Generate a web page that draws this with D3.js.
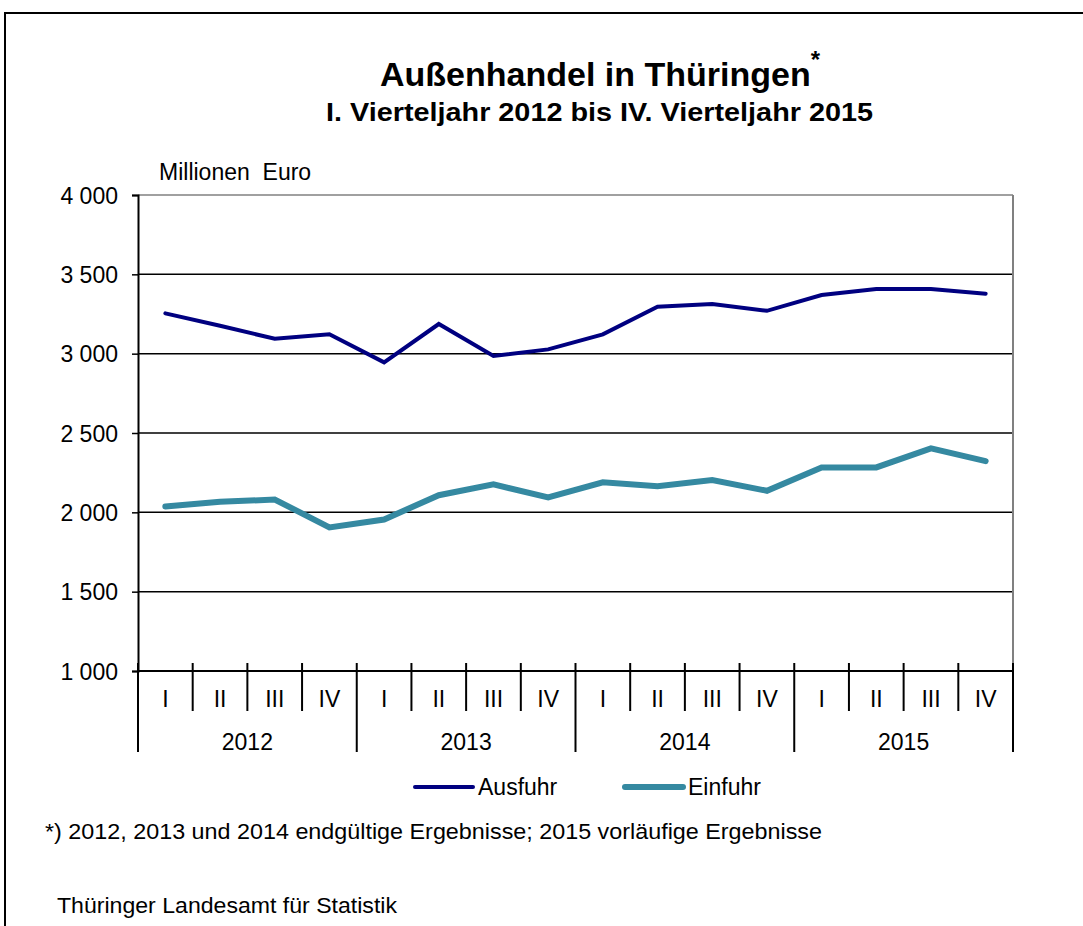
<!DOCTYPE html>
<html>
<head>
<meta charset="utf-8">
<script src="https://cdn.jsdelivr.net/npm/d3@7"></script>
<style>
  body { margin: 0; background: #fff; }
  svg text { font-family: "Liberation Sans", Arial, sans-serif; fill: #000; }
</style>
</head>
<body>
<svg id="chart" width="1083" height="926"></svg>
<script>
// data
var years = ["2012", "2013", "2014", "2015"];
var quarters = ["I", "II", "III", "IV"];
var ausfuhr = [3254, 3176, 3094, 3122, 2945, 3187, 2985, 3027, 3122, 3296, 3313, 3270, 3370, 3407, 3407, 3378];
var einfuhr = [2037, 2066, 2081, 1905, 1955, 2108, 2176, 2094, 2189, 2165, 2203, 2136, 2283, 2283, 2403, 2323];
var yTicks = [1000, 1500, 2000, 2500, 3000, 3500, 4000];

var svg = d3.select('#chart');
var plot = { left: 138, right: 1013, top: 195, bottom: 671 };
var fs = '23px';

// outer frame (only top and left visible in picture)
svg.append('path')
    .attr('d', 'M5,926 V13 H1083')
    .attr('fill', 'none')
    .attr('stroke', '#000')
    .attr('stroke-width', 2);

var idx = d3.range(years.length * quarters.length);
var x = d3.scaleBand().domain(idx).range([plot.left, plot.right]);
var y = d3.scaleLinear().domain([1000, 4000]).range([plot.bottom, plot.top]);
var cx = function (i) { return x(i) + x.bandwidth() / 2; };

var loc = d3.formatLocale({ decimal: ',', thousands: ' ', grouping: [3], currency: ['', ''] });
var fmt = loc.format(',');

// gridlines
svg.append('g').selectAll('line')
    .data(yTicks.filter(function (d) { return d > 1000; }))
    .enter().append('line')
    .attr('x1', plot.left).attr('x2', plot.right)
    .attr('y1', function (d) { return y(d); })
    .attr('y2', function (d) { return y(d); })
    .attr('stroke', function (d) { return d === 4000 ? '#808080' : '#000'; })
    .attr('stroke-width', 1.5);

// right border of plot area
svg.append('line')
    .attr('x1', plot.right).attr('x2', plot.right)
    .attr('y1', plot.top).attr('y2', plot.bottom)
    .attr('stroke', '#808080').attr('stroke-width', 2);

// y axis
var yAxis = svg.append('g')
    .attr('transform', 'translate(' + plot.left + ',0)')
    .call(d3.axisLeft(y).tickValues(yTicks).tickFormat(fmt).tickSize(6).tickPadding(14));
yAxis.select('.domain').attr('stroke', '#000').attr('stroke-width', 2);
yAxis.selectAll('.tick line').attr('stroke', '#000').attr('stroke-width', 1.5);
yAxis.selectAll('text').style('font-size', fs).attr('fill', '#000').attr('dy', '0.36em');

svg.append('text')
    .attr('x', 159).attr('y', 180)
    .style('font-size', fs).style('white-space', 'pre')
    .text('Millionen  Euro');

// x axis baseline
svg.append('line')
    .attr('x1', plot.left).attr('x2', plot.right)
    .attr('y1', plot.bottom).attr('y2', plot.bottom)
    .attr('stroke', '#000').attr('stroke-width', 2);

// quarter tick marks at band boundaries
var bounds = idx.concat([idx.length]);
svg.append('g').selectAll('line')
    .data(bounds)
    .enter().append('line')
    .attr('x1', function (i) { return i < idx.length ? x(i) : plot.right; })
    .attr('x2', function (i) { return i < idx.length ? x(i) : plot.right; })
    .attr('y1', plot.bottom - 8)
    .attr('y2', function (i) { return i % 4 === 0 ? 752 : 711; })
    .attr('stroke', '#000').attr('stroke-width', 2);

svg.append('g').selectAll('text')
    .data(idx)
    .enter().append('text')
    .attr('x', function (i) { return cx(i); })
    .attr('y', 707)
    .attr('text-anchor', 'middle')
    .style('font-size', fs)
    .text(function (i) { return quarters[i % 4]; });

svg.append('g').selectAll('text')
    .data(years)
    .enter().append('text')
    .attr('x', function (d, j) { return (x(j * 4) + x(j * 4 + 3) + x.bandwidth()) / 2; })
    .attr('y', 750)
    .attr('text-anchor', 'middle')
    .style('font-size', fs)
    .text(function (d) { return d; });

// lines
var line = d3.line()
    .x(function (d, i) { return cx(i); })
    .y(function (d) { return y(d); });

svg.append('path')
    .datum(einfuhr)
    .attr('d', line)
    .attr('fill', 'none')
    .attr('stroke', '#3589a1')
    .attr('stroke-width', 6)
    .attr('stroke-linecap', 'round');

svg.append('path')
    .datum(ausfuhr)
    .attr('d', line)
    .attr('fill', 'none')
    .attr('stroke', '#000080')
    .attr('stroke-width', 4)
    .attr('stroke-linecap', 'round');

// titles
var title = svg.append('text')
    .attr('x', 600).attr('y', 86)
    .attr('text-anchor', 'middle')
    .style('font-size', '34px').style('font-weight', 'bold');
title.append('tspan').text('Außenhandel in Thüringen');
title.append('tspan').attr('dy', -18).style('font-size', '24px').text('*');

svg.append('text')
    .attr('x', 326).attr('y', 121)
    .attr('textLength', 547).attr('lengthAdjust', 'spacingAndGlyphs')
    .style('font-size', '25px').style('font-weight', 'bold')
    .text('I. Vierteljahr 2012 bis IV. Vierteljahr 2015');

// legend
var legend = [
    { name: 'Ausfuhr', color: '#000080', width: 4, x: 415 },
    { name: 'Einfuhr', color: '#3589a1', width: 6, x: 625 }
];
var lg = svg.append('g').selectAll('g')
    .data(legend)
    .enter().append('g')
    .attr('transform', function (d) { return 'translate(' + d.x + ',787)'; });
lg.append('line')
    .attr('x1', 0).attr('x2', 58)
    .attr('stroke', function (d) { return d.color; })
    .attr('stroke-width', function (d) { return d.width; })
    .attr('stroke-linecap', 'round');
lg.append('text')
    .attr('x', 63).attr('y', 8)
    .style('font-size', fs)
    .text(function (d) { return d.name; });

// footnotes
svg.append('text')
    .attr('x', 45).attr('y', 839)
    .style('font-size', '22px')
    .attr('textLength', 777).attr('lengthAdjust', 'spacingAndGlyphs')
    .text('*) 2012, 2013 und 2014 endgültige Ergebnisse; 2015 vorläufige Ergebnisse');

svg.append('text')
    .attr('x', 57).attr('y', 913)
    .style('font-size', '22px')
    .attr('textLength', 340).attr('lengthAdjust', 'spacingAndGlyphs')
    .text('Thüringer Landesamt für Statistik');
</script>
</body>
</html>
